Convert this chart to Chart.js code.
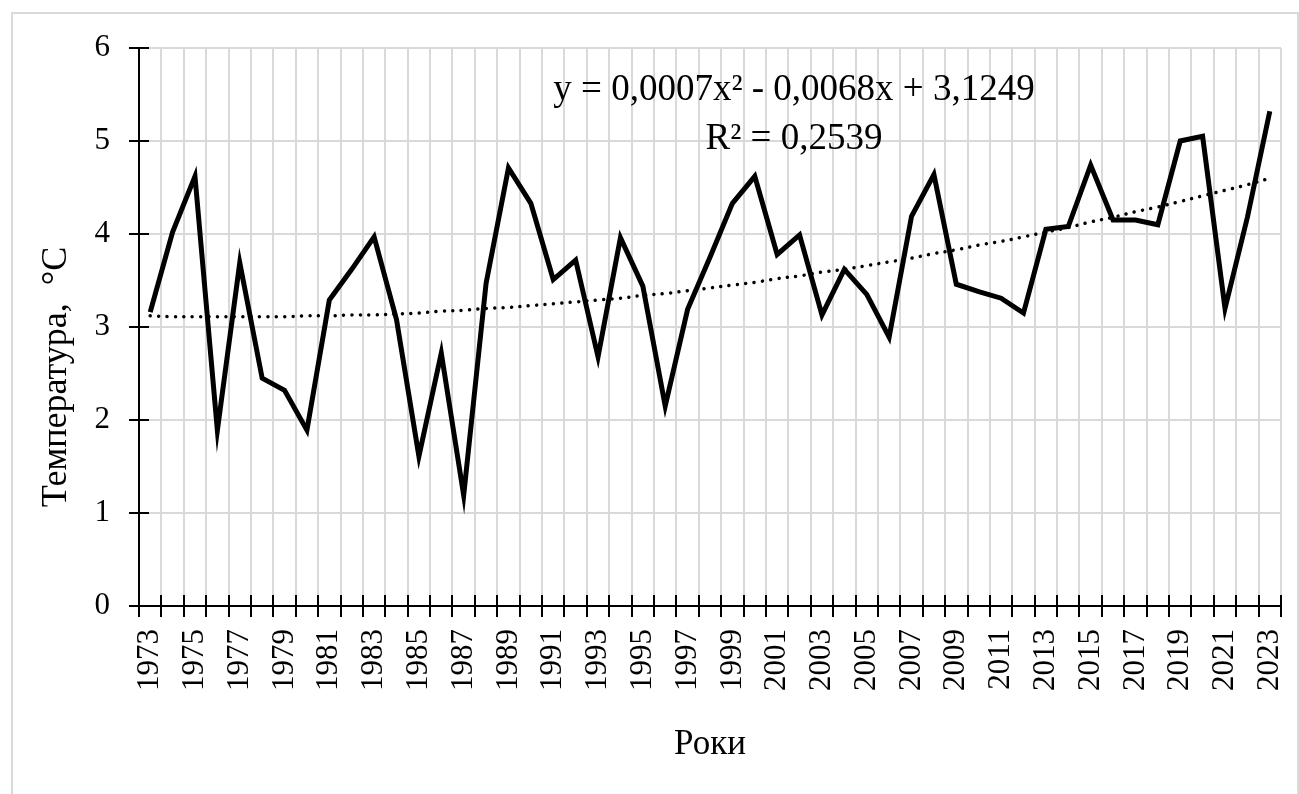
<!DOCTYPE html>
<html lang="uk">

<head>
    <meta charset="UTF-8">
    <title>Температура</title>
    <script src="https://cdn.jsdelivr.net/npm/chart.js@4.4.1/dist/chart.umd.min.js"></script>
    <style>
        * {
            margin: 0;
            padding: 0;
        }

        body {
            background: #fff;
            width: 1299px;
            height: 794px;
            overflow: hidden;
            position: relative;
        }

        #frame {
            position: absolute;
            left: 11px;
            top: 12px;
            width: 1284px;
            height: 820px;
            border: 2px solid #d9d9d9;
        }

        #chartCanvas {
            position: absolute;
            left: 0;
            top: 0;
        }
    </style>
</head>

<body>
    <div id="frame"></div>
    <canvas id="chartCanvas" width="1299" height="794"></canvas>

    <script>
        // роки 1973-2023
        const years = ["1973", "1974", "1975", "1976", "1977", "1978", "1979", "1980", "1981", "1982",
            "1983", "1984", "1985", "1986", "1987", "1988", "1989", "1990", "1991", "1992",
            "1993", "1994", "1995", "1996", "1997", "1998", "1999", "2000", "2001", "2002",
            "2003", "2004", "2005", "2006", "2007", "2008", "2009", "2010", "2011", "2012",
            "2013", "2014", "2015", "2016", "2017", "2018", "2019", "2020", "2021", "2022", "2023"]

        // середня температура, °C
        const temps = [3.16, 4.02, 4.62, 1.89, 3.69, 2.45, 2.32, 1.89, 3.29, 3.62,
            3.97, 3.08, 1.61, 2.72, 1.19, 3.47, 4.71, 4.33, 3.51, 3.72,
            2.68, 3.96, 3.44, 2.15, 3.19, 3.75, 4.33, 4.62, 3.78, 3.99,
            3.13, 3.62, 3.35, 2.89, 4.19, 4.64, 3.46, 3.38, 3.31, 3.15,
            4.05, 4.08, 4.74, 4.15, 4.15, 4.10, 5.00, 5.05, 3.20, 4.18, 5.32]

        // поліноміальний тренд (крапкова лінія)
        const trend = [3.12, 3.11, 3.11, 3.11, 3.11, 3.11, 3.11, 3.12, 3.12, 3.13,
            3.13, 3.14, 3.15, 3.17, 3.18, 3.20, 3.21, 3.23, 3.25, 3.27,
            3.29, 3.31, 3.34, 3.36, 3.39, 3.42, 3.45, 3.48, 3.52, 3.55,
            3.59, 3.62, 3.66, 3.70, 3.74, 3.79, 3.83, 3.88, 3.92, 3.97,
            4.02, 4.07, 4.13, 4.18, 4.24, 4.29, 4.35, 4.41, 4.47, 4.53, 4.60]

        const yTicks = [0, 1, 2, 3, 4, 5, 6]

        const equationText = "y = 0,0007x² - 0,0068x + 3,1249"
        const r2Text = "R² = 0,2539"
        const yTitle = "Температура,  °C"
        const xTitle = "Роки"

        const serif = "'Liberation Serif', 'Times New Roman', serif"

        // хрестоподібні риски на осях + підписи
        const extras = {
            id: 'extras',
            beforeDatasetsDraw(chart) {
                const ctx = chart.ctx
                const xs = chart.scales.x
                const ys = chart.scales.y
                ctx.save()
                ctx.strokeStyle = '#000'
                ctx.lineWidth = 2
                ctx.beginPath()
                let step = (xs.right - xs.left) / years.length
                for (let i = 0; i <= years.length; i++) {
                    let px = Math.round(xs.left + i * step)
                    ctx.moveTo(px, xs.top)
                    ctx.lineTo(px, xs.top - 11)
                }
                yTicks.forEach(function (v) {
                    let py = Math.round(ys.getPixelForValue(v))
                    ctx.moveTo(ys.right, py)
                    ctx.lineTo(ys.right + 10, py)
                })
                ctx.stroke()
                ctx.restore()
            },
            afterDraw(chart) {
                const ctx = chart.ctx
                ctx.save()
                ctx.fillStyle = '#000'
                ctx.textAlign = 'center'
                ctx.textBaseline = 'middle'
                ctx.font = "37px " + serif
                ctx.fillText(equationText, 794, 90)
                ctx.fillText(r2Text, 794, 139)

                ctx.translate(57, 377)
                ctx.rotate(-Math.PI / 2)
                ctx.font = "36px " + serif
                ctx.fillText(yTitle, 0, 0)
                ctx.restore()
            }
        }

        const chart = new Chart(document.getElementById('chartCanvas'), {
            type: 'line',
            data: {
                labels: years,
                datasets: [
                    {
                        label: 'Температура',
                        data: temps,
                        borderColor: '#000',
                        backgroundColor: '#000',
                        borderWidth: 5,
                        borderJoinStyle: 'miter',
                        pointRadius: 0,
                        tension: 0,
                        order: 1
                    },
                    {
                        label: 'Тренд',
                        data: trend,
                        borderColor: '#000',
                        borderWidth: 3.5,
                        borderDash: [0.01, 8.4],
                        borderCapStyle: 'round',
                        pointRadius: 0,
                        tension: 0.4,
                        order: 2
                    }
                ]
            },
            options: {
                responsive: false,
                animation: false,
                layout: {
                    padding: { left: 0, top: 48, right: 18, bottom: 0 }
                },
                plugins: {
                    legend: { display: false },
                    tooltip: { enabled: false }
                },
                scales: {
                    x: {
                        type: 'category',
                        offset: true,
                        grid: {
                            offset: true,
                            color: '#d9d9d9',
                            lineWidth: 2,
                            tickLength: 11,
                            tickColor: '#000',
                            tickWidth: 2
                        },
                        border: { color: '#000', width: 2 },
                        ticks: {
                            autoSkip: false,
                            minRotation: 90,
                            maxRotation: 90,
                            padding: 12,
                            color: '#000',
                            font: { family: serif, size: 31 },
                            callback: function (val, i) {
                                return i % 2 === 0 ? years[i] : ''
                            }
                        },
                        title: {
                            display: true,
                            text: xTitle,
                            color: '#000',
                            font: { family: serif, size: 35 },
                            padding: { top: 0, bottom: 28 }
                        },
                        afterFit: function (scale) {
                            scale.height = 188
                            scale.paddingLeft = 0
                            scale.paddingRight = 0
                        }
                    },
                    y: {
                        min: 0,
                        max: 6,
                        grid: {
                            color: '#d9d9d9',
                            lineWidth: 2,
                            tickLength: 10,
                            tickColor: '#000',
                            tickWidth: 2
                        },
                        border: { color: '#000', width: 2 },
                        ticks: {
                            stepSize: 1,
                            padding: 19,
                            color: '#000',
                            font: { family: serif, size: 31 }
                        },
                        afterFit: function (scale) {
                            scale.width = 139
                            scale.paddingTop = 0
                            scale.paddingBottom = 0
                        }
                    }
                }
            },
            plugins: [extras]
        })
    </script>
</body>

</html>
